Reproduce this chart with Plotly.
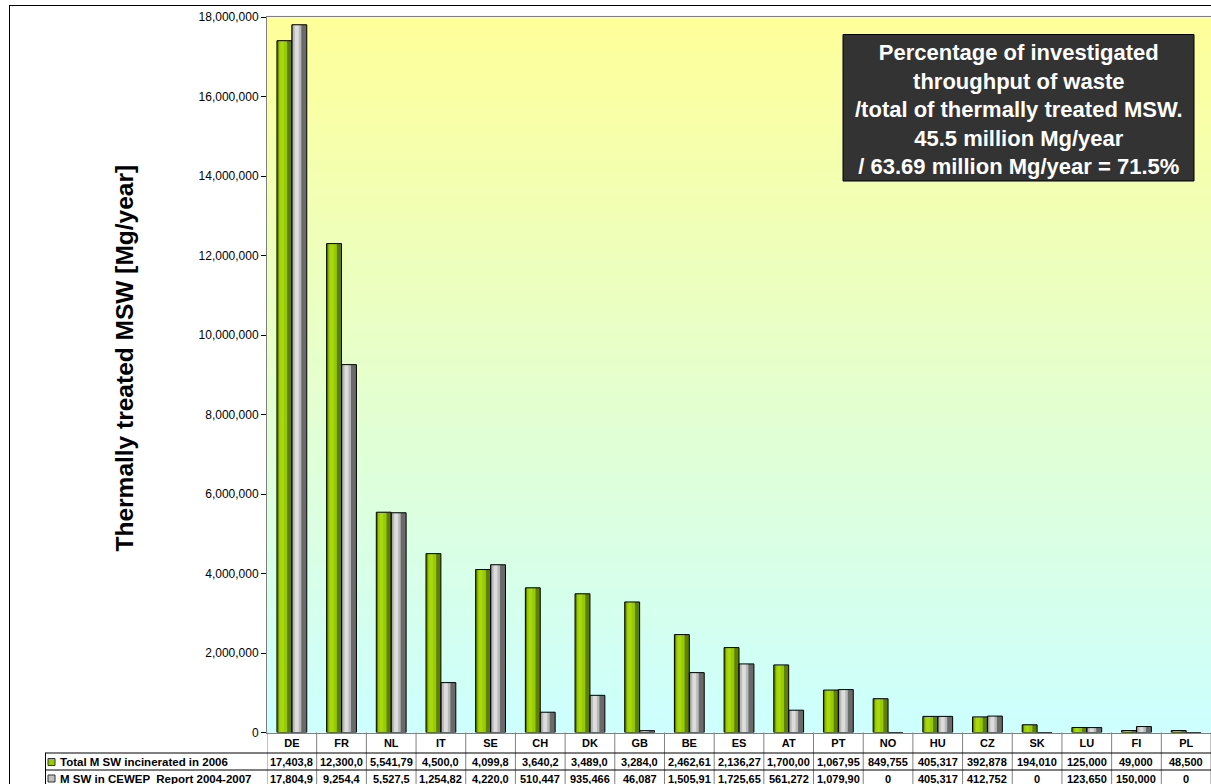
import plotly.graph_objects as go

W, H = 1211, 784

countries = ["DE", "FR", "NL", "IT", "SE", "CH", "DK", "GB", "BE", "ES",
             "AT", "PT", "NO", "HU", "CZ", "SK", "LU", "FI", "PL"]
total_2006 = [17403800, 12300000, 5541790, 4500000, 4099800, 3640200, 3489000,
              3284000, 2462610, 2136270, 1700000, 1067950, 849755, 405317,
              392878, 194010, 125000, 49000, 48500]
cewep_2004_2007 = [17804900, 9254400, 5527500, 1254820, 4220000, 510447, 935466,
                   46087, 1505910, 1725650, 561272, 1079900, 0, 405317,
                   412752, 0, 123650, 150000, 0]
# strings as shown (clipped) in the data table of the original chart
total_labels = ["17,403,8", "12,300,0", "5,541,79", "4,500,0", "4,099,8", "3,640,2",
                "3,489,0", "3,284,0", "2,462,61", "2,136,27", "1,700,00", "1,067,95",
                "849,755", "405,317", "392,878", "194,010", "125,000", "49,000", "48,500"]
cewep_labels = ["17,804,9", "9,254,4", "5,527,5", "1,254,82", "4,220,0", "510,447",
                "935,466", "46,087", "1,505,91", "1,725,65", "561,272", "1,079,90",
                "0", "405,317", "412,752", "0", "123,650", "150,000", "0"]
series_names = ["Total M SW incinerated in 2006", "M SW in CEWEP  Report 2004-2007"]
y_title = "Thermally treated MSW [Mg/year]"
note_lines = ["Percentage of investigated", "throughput of waste",
              "/total of thermally treated MSW.", "45.5 million Mg/year",
              "/ 63.69 million Mg/year = 71.5%"]

GREEN = "#99CC00"
GREY = "#C0C0C0"
FONT = "Liberation Sans, Arial, sans-serif"


def px(x):
    return x / W


def py(y):
    return 1 - y / H


PLOT_L, PLOT_R, PLOT_T, PLOT_B = 267, 1211, 17, 732.5

fig = go.Figure()

BAR_W = 0.3
# cylinder-like shading: (colour, offset inside bar, width) layers
styles = [
    (series_names[0], total_2006, -BAR_W,
     [("#5E8000", 0.0, BAR_W), ("#99CC00", 0.035, 0.17), ("#A8D80F", 0.07, 0.07)]),
    (series_names[1], cewep_2004_2007, 0.0,
     [("#6A6A6A", 0.0, BAR_W), ("#B8B8B8", 0.02, 0.17), ("#DCDCDC", 0.06, 0.08)]),
]
for name, vals, off, layers in styles:
    for k, (col, o, w) in enumerate(layers):
        fig.add_trace(go.Bar(x=countries, y=vals, name=name, width=w, offset=off + o,
                             marker=dict(color=col, line=dict(width=0)),
                             hoverinfo="skip" if k else None, showlegend=False))
    fig.add_trace(go.Bar(x=countries, y=vals, name=name, width=BAR_W, offset=off,
                         marker=dict(color="rgba(0,0,0,0)",
                                     line=dict(color="#000000", width=1)),
                         hoverinfo="skip", showlegend=False))

shapes = []
# gradient background of the plot area (yellow at top -> light cyan at bottom)
N = 80
top = (255, 255, 153)
bot = (204, 255, 255)
for i in range(N):
    t = (i + 0.5) / N
    c = tuple(round(bot[k] + (top[k] - bot[k]) * t) for k in range(3))
    shapes.append(dict(type="rect", xref="x domain", yref="y domain",
                       x0=0, x1=1, y0=i / N, y1=(i + 1) / N + 0.002,
                       fillcolor="rgb(%d,%d,%d)" % c, line=dict(width=0),
                       layer="below"))

# outer chart border
shapes.append(dict(type="line", xref="paper", yref="paper", x0=px(9), x1=1,
                   y0=py(5.5), y1=py(5.5), line=dict(color="#000000", width=1)))
shapes.append(dict(type="line", xref="paper", yref="paper", x0=px(9.5), x1=px(9.5),
                   y0=py(5.5), y1=0, line=dict(color="#000000", width=1)))

# data table grid
ROW1_T, ROW2_T = 753, 770
n = len(countries)
for i in range(n + 1):
    shapes.append(dict(type="line", xref="x", yref="paper", x0=i - 0.5, x1=i - 0.5,
                       y0=py(PLOT_B), y1=0, line=dict(color="#808080", width=1)))
for yy in (ROW1_T, ROW2_T):
    shapes.append(dict(type="line", xref="paper", yref="paper", x0=px(45), x1=1,
                       y0=py(yy), y1=py(yy), line=dict(color="#000000", width=1)))
shapes.append(dict(type="line", xref="paper", yref="paper", x0=px(45.5), x1=px(45.5),
                   y0=py(ROW1_T), y1=0, line=dict(color="#000000", width=1)))
# legend keys
for yy, col in ((762, GREEN), (778.5, GREY)):
    shapes.append(dict(type="rect", xref="paper", yref="paper", x0=px(48), x1=px(55),
                       y0=py(yy + 3.5), y1=py(yy - 3.5), fillcolor=col,
                       line=dict(color="#333333", width=1)))
# note box
shapes.append(dict(type="rect", xref="paper", yref="paper", x0=px(843), x1=px(1194),
                   y0=py(181), y1=py(34.5), fillcolor="#333333",
                   line=dict(color="#000000", width=1)))

annotations = []
annotations.append(dict(text="<br>".join(note_lines), xref="paper", yref="paper",
                        x=px(1018.5), y=py(109), xanchor="center", yanchor="middle",
                        showarrow=False, align="center",
                        font=dict(family=FONT, size=22, color="#FFFFFF", weight="bold")))
annotations.append(dict(text=y_title, xref="paper", yref="paper", x=px(124), y=py(358.5),
                        xanchor="center", yanchor="middle", textangle=-90,
                        showarrow=False,
                        font=dict(family=FONT, size=24.5, color="#000000", weight="bold")))
for yy, name in ((762, series_names[0]), (778.5, series_names[1])):
    annotations.append(dict(text=name, xref="paper", yref="paper", x=px(58), y=py(yy),
                            xanchor="left", yanchor="middle", showarrow=False,
                            font=dict(family=FONT, size=11.5, color="#000000",
                                      weight="bold")))
for i in range(n):
    for yy, labels in ((762, total_labels), (778.5, cewep_labels)):
        annotations.append(dict(text=labels[i], xref="x", yref="paper", x=i, y=py(yy),
                                xanchor="center", yanchor="middle", showarrow=False,
                                font=dict(family=FONT, size=11, color="#000000",
                                          weight="bold")))

fig.update_layout(
    width=W, height=H,
    margin=dict(l=0, r=0, t=0, b=0, autoexpand=False),
    paper_bgcolor="#FFFFFF",
    plot_bgcolor="rgba(0,0,0,0)",
    barmode="overlay",
    showlegend=False,
    font=dict(family=FONT, color="#000000"),
    shapes=shapes,
    annotations=annotations,
    xaxis=dict(domain=[px(PLOT_L), px(PLOT_R)], range=[-0.5, n - 0.5],
               showline=True, linecolor="#808080", linewidth=1, mirror=True,
               ticks="", showgrid=False,
               tickfont=dict(family=FONT, size=11, color="#000000", weight="bold")),
    yaxis=dict(domain=[py(PLOT_B), py(PLOT_T)], range=[0, 18000000], dtick=2000000,
               tickformat=",d", showgrid=False, zeroline=False,
               showline=True, linecolor="#808080", linewidth=1, mirror=True,
               ticks="outside", ticklen=5, tickcolor="#000000",
               tickfont=dict(family=FONT, size=12, color="#000000")),
)

fig.write_html("out.html")
